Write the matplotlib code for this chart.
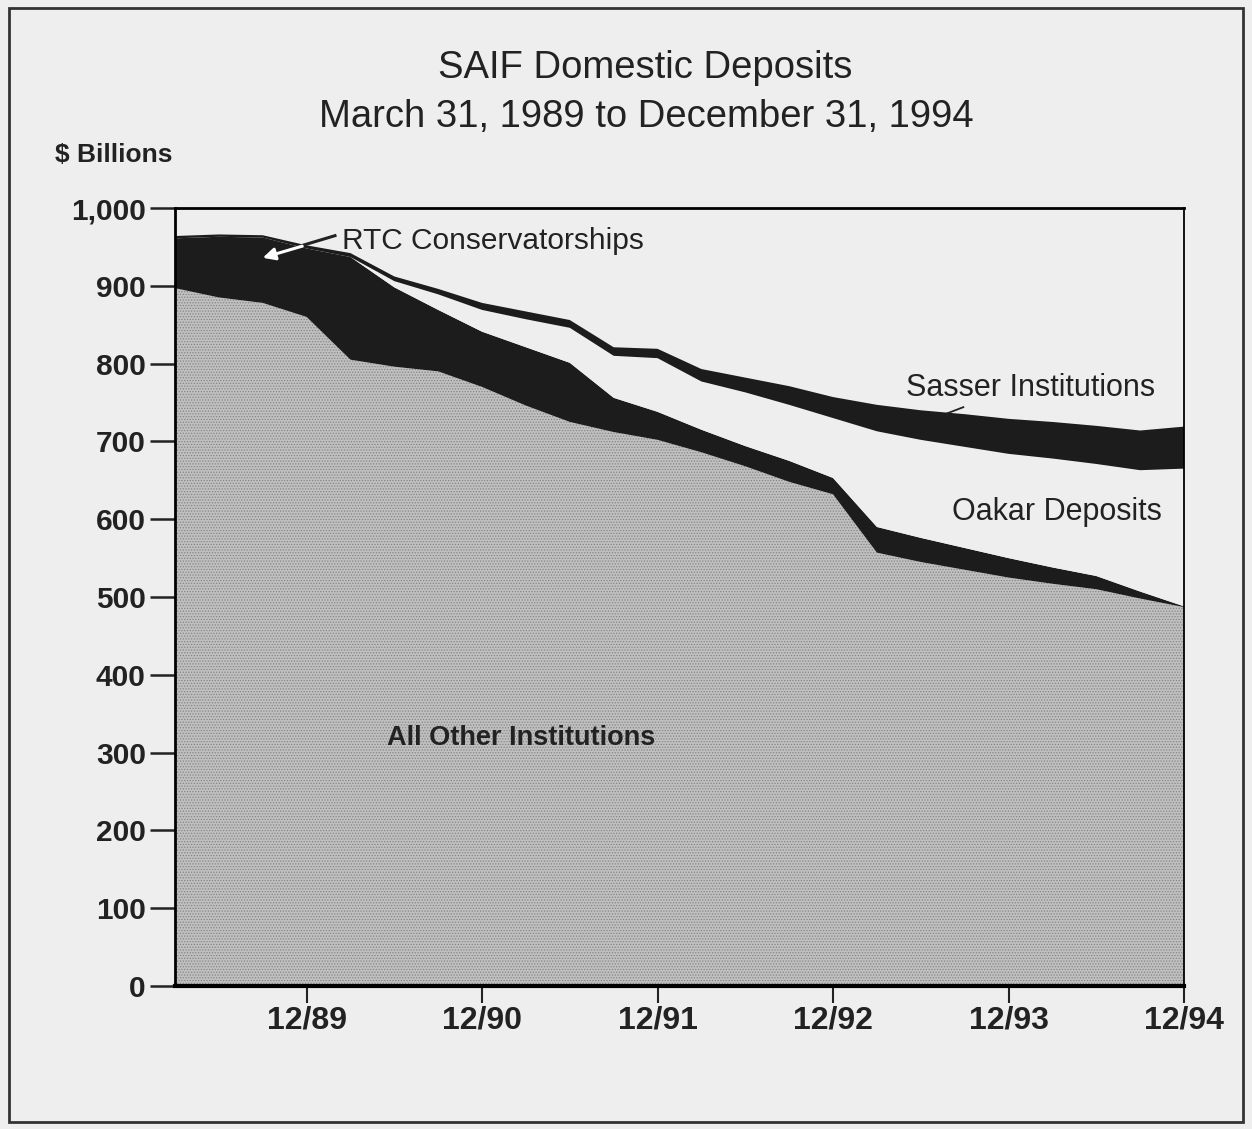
import numpy as np
import matplotlib
matplotlib.use("Agg")
import matplotlib.pyplot as plt
from matplotlib.patches import Rectangle

plt.rcParams['font.family'] = ['Liberation Sans', 'DejaVu Sans']
plt.rcParams['hatch.linewidth'] = 0.6

# quarterly, 3/89 .. 12/94 ($ billions)
quarters = ['3/89', '6/89', '9/89', '12/89', '3/90', '6/90', '9/90', '12/90',
            '3/91', '6/91', '9/91', '12/91', '3/92', '6/92', '9/92', '12/92',
            '3/93', '6/93', '9/93', '12/93', '3/94', '6/94', '9/94', '12/94']
all_other = [897, 885, 878, 860, 805, 796, 790, 770, 746, 725, 712, 702,
             686, 668, 648, 632, 557, 545, 535, 525, 517, 510, 498, 487]
rtc = [64, 78, 84, 88, 132, 102, 79, 71, 75, 76, 44, 36,
       29, 26, 27, 21, 33, 31, 28, 25, 21, 17, 9, 1]
oakar = [0, 0, 0, 0, 0, 8, 20, 28, 36, 45, 54, 69,
         62, 69, 72, 77, 123, 126, 130, 134, 140, 144, 156, 177]
sasser = [3, 3, 3, 4, 5, 6, 7, 9, 10, 10, 11, 12,
          16, 19, 24, 27, 34, 38, 42, 45, 47, 49, 51, 54]

tick_labels = ['12/89', '12/90', '12/91', '12/92', '12/93', '12/94']
y_ticks = [0, 100, 200, 300, 400, 500, 600, 700, 800, 900, 1000]

bg = '#eeeeee'
black = '#1c1c1c'
gray = '#c0c0c0'
ink = '#222222'

fig = plt.figure(figsize=(12.52, 11.29), dpi=100, facecolor=bg)
ax = fig.add_axes([175/1252, 1 - 986/1129, (1184-175)/1252, (986-208)/1129])
ax.set_facecolor(bg)

x = np.arange(len(quarters))
polys = ax.stackplot(x, all_other, rtc, oakar, sasser,
                     colors=[gray, black, bg, black], linewidth=0)
polys[0].set_hatch('......')
polys[0].set_edgecolor('#858585')
polys[0].set_linewidth(0)

ax.set_xlim(0, len(quarters) - 1)
ax.set_ylim(0, 1000)
ax.set_yticks(y_ticks)
ax.set_yticklabels(['{:,}'.format(v) for v in y_ticks])
tick_pos = [quarters.index(t) for t in tick_labels]
ax.set_xticks(tick_pos)
ax.set_xticklabels(tick_labels)

ax.tick_params(axis='y', length=18, width=1.8, pad=3, labelsize=21.5, direction='out',
               colors=ink)
ax.tick_params(axis='x', length=12, width=1.5, pad=2, labelsize=23, direction='out',
               colors=ink)
for lab in ax.get_xticklabels() + ax.get_yticklabels():
    lab.set_fontweight('bold')

for side in ['left', 'top']:
    ax.spines[side].set_linewidth(2)
ax.spines['right'].set_linewidth(1.3)
ax.spines['bottom'].set_linewidth(3)

# labels
ax.text(3.8, 958, 'RTC Conservatorships', fontsize=21.5, va='center', ha='left', color=ink)
ax.plot([3.68, 2.85], [965, 951], color=ink, lw=2.2, solid_capstyle='butt')
ax.annotate('', xy=(2.0, 936), xytext=(2.9, 951),
            arrowprops=dict(arrowstyle='-|>', color='white', lw=2.2,
                            mutation_scale=18, shrinkA=0, shrinkB=0))

ax.text(19.5, 769, 'Sasser Institutions', fontsize=22, va='center', ha='center', color=ink)
ax.plot([17.6, 17.97], [736, 744], color=ink, lw=1.3)
ax.text(20.1, 609, 'Oakar Deposits', fontsize=22, va='center', ha='center', color=ink)
ax.text(7.9, 319, 'All Other Institutions', fontsize=19.5, va='center', ha='center',
        color=ink, fontweight='bold')

fig.text(645/1252, 1 - 68/1129, 'SAIF Domestic Deposits', fontsize=27.5, ha='center',
         va='center', color=ink)
fig.text(646/1252, 1 - 117/1129, 'March 31, 1989 to December 31, 1994', fontsize=27.5,
         ha='center', va='center', color=ink)
fig.text(55/1252, 1 - 155/1129, '$ Billions', fontsize=19, fontweight='bold',
         ha='left', va='center', color=ink)

fig.patches.append(Rectangle((9/1252, 7/1129), 1234/1252, 1114/1129, transform=fig.transFigure,
                             fill=False, lw=2, edgecolor='#333333'))

fig.savefig('out.png', dpi=100, facecolor=bg)
